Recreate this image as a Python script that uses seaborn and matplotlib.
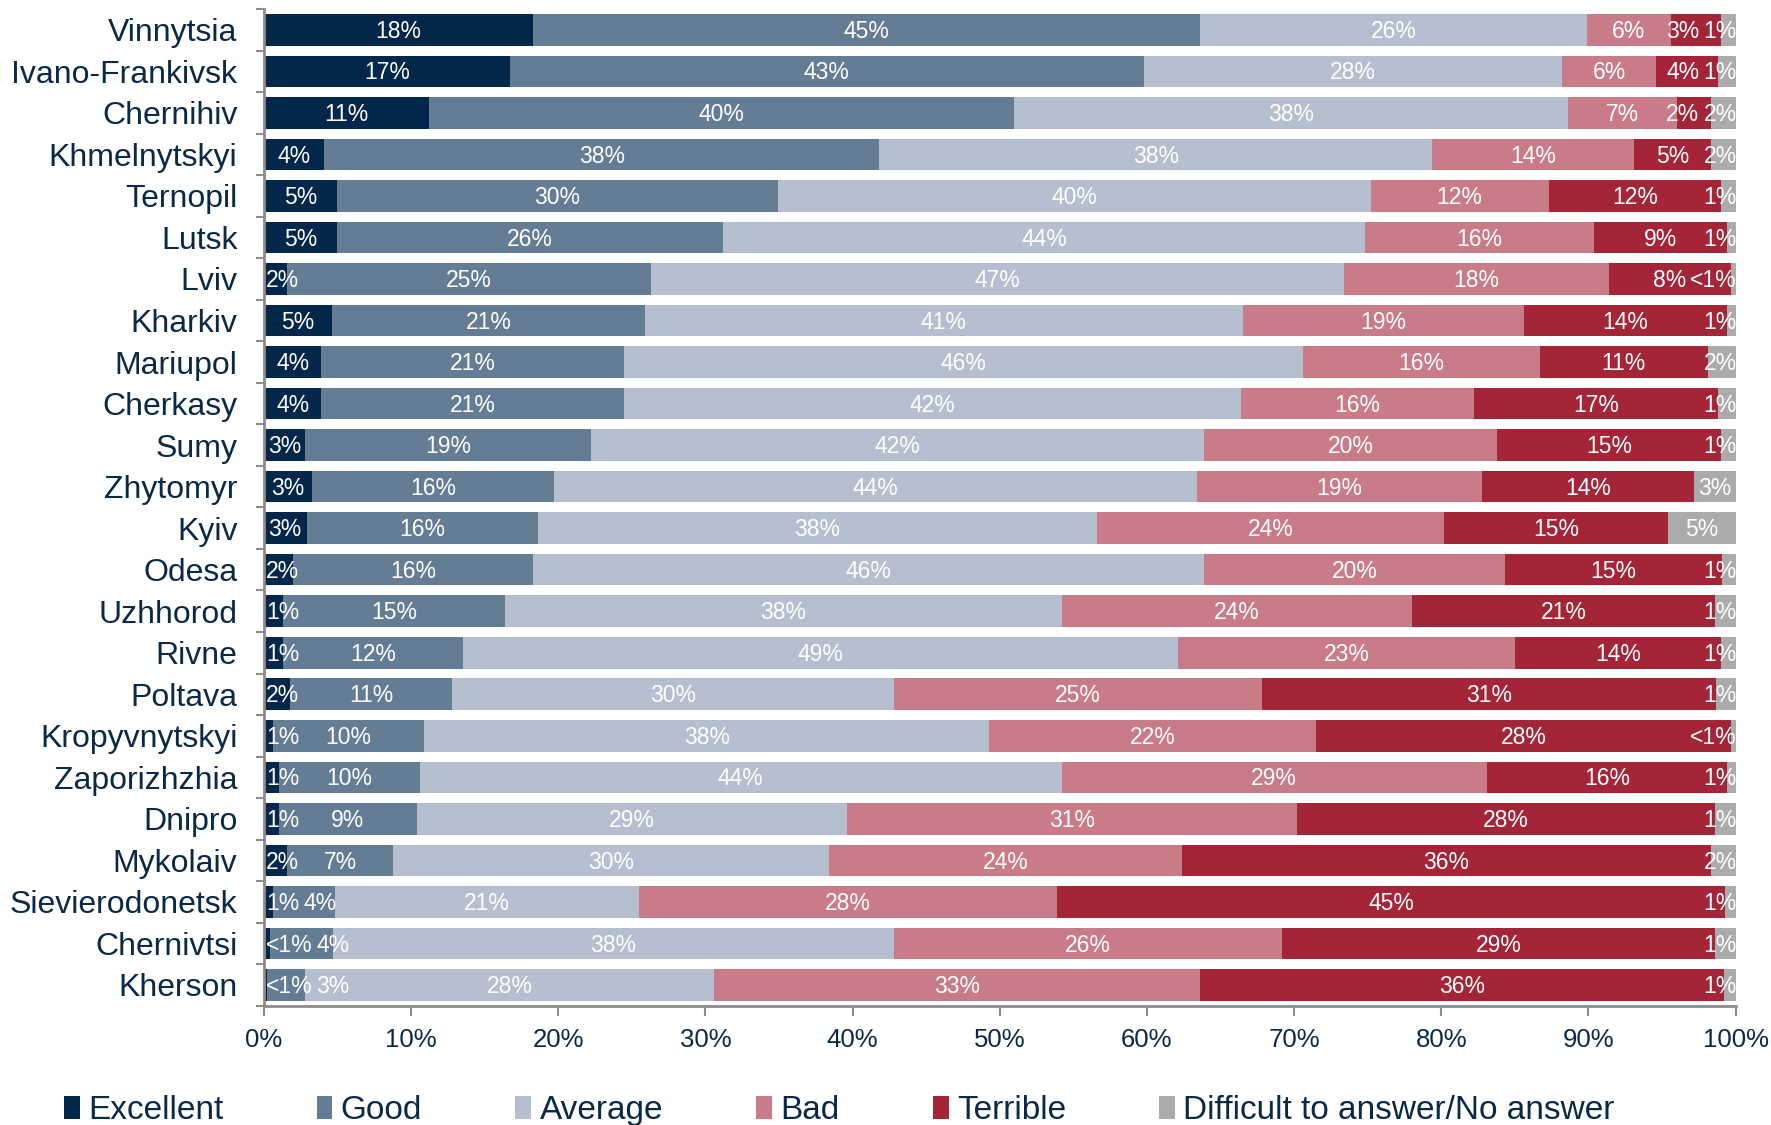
import numpy as np
import pandas as pd
import matplotlib
matplotlib.use("Agg")
import matplotlib.pyplot as plt
import matplotlib.ticker as mticker
from matplotlib.patches import Patch
import seaborn as sns

# ── Data (share of answers, %) ───────────────────────────
cities = ["Vinnytsia", "Ivano-Frankivsk", "Chernihiv", "Khmelnytskyi", "Ternopil",
          "Lutsk", "Lviv", "Kharkiv", "Mariupol", "Cherkasy", "Sumy", "Zhytomyr",
          "Kyiv", "Odesa", "Uzhhorod", "Rivne", "Poltava", "Kropyvnytskyi",
          "Zaporizhzhia", "Dnipro", "Mykolaiv", "Sievierodonetsk", "Chernivtsi", "Kherson"]

excellent = [18.3, 16.7, 11.2, 4.1, 5.0, 5.0, 1.6, 4.6, 3.9, 3.9, 2.8, 3.3,
             2.9, 2.0, 1.3, 1.3, 1.8, 0.6, 1.0, 1.0, 1.6, 0.6, 0.4, 0.2]
good      = [45.3, 43.1, 39.8, 37.7, 29.9, 26.2, 24.7, 21.3, 20.6, 20.6, 19.4, 16.4,
             15.7, 16.3, 15.1, 12.2, 11.0, 10.3, 9.6, 9.4, 7.2, 4.2, 4.3, 2.6]
average   = [26.3, 28.4, 37.6, 37.6, 40.3, 43.6, 47.1, 40.6, 46.1, 41.9, 41.7, 43.7,
             38.0, 45.6, 37.8, 48.6, 30.0, 38.4, 43.6, 29.2, 29.6, 20.7, 38.1, 27.8]
bad       = [5.7, 6.4, 7.4, 13.7, 12.1, 15.6, 18.0, 19.1, 16.1, 15.8, 19.9, 19.4,
             23.6, 20.4, 23.8, 22.9, 25.0, 22.2, 28.9, 30.6, 24.0, 28.4, 26.4, 33.0]
terrible  = [3.4, 4.2, 2.3, 5.2, 11.7, 9.0, 8.3, 13.8, 11.4, 16.6, 15.2, 14.4,
             15.2, 14.8, 20.6, 14.0, 30.9, 28.2, 16.3, 28.4, 35.9, 45.4, 29.4, 35.6]
difficult = [1.0, 1.2, 1.7, 1.7, 1.0, 0.6, 0.3, 0.6, 1.9, 1.2, 1.0, 2.8,
             4.6, 0.9, 1.4, 1.0, 1.3, 0.3, 0.6, 1.4, 1.7, 0.7, 1.4, 0.8]

series_names = ["Excellent", "Good", "Average", "Bad", "Terrible",
                "Difficult to answer/No answer"]

# ── Style ─────────────────────────────────────────────────
COLORS   = ["#03274A", "#657D94", "#B6BFD0", "#C97C88", "#A32537", "#ABABAB"]
TEXT_CLR = "#0A2947"
AXIS_CLR = "#8C8C8C"

sns.set_theme(style="white")
plt.rcParams["font.family"] = ["Liberation Sans", "DejaVu Sans"]

df = pd.DataFrame({"city": cities})
for name, vals in zip(series_names, [excellent, good, average, bad, terrible, difficult]):
    df[name] = vals
cum = df[series_names].cumsum(axis=1)

fig = plt.figure(figsize=(17.71, 11.25), dpi=100)
ax = fig.add_axes([0.149, 0.106, 0.831, 0.886])

# stacked bars: draw cumulative totals from the widest down
for k in range(len(series_names) - 1, -1, -1):
    sns.barplot(x=cum[series_names[k]], y=df["city"], color=COLORS[k],
                saturation=1, width=0.76, orient="h", errorbar=None,
                linewidth=0, ax=ax)

# data labels at the centre of each segment
rows = []
for i in range(len(df)):
    start = 0.0
    row = []
    for name in series_names:
        v = df.loc[i, name]
        lab = "<1%" if v < 0.5 else f"{v:.0f}%"
        t = ax.text(start + v / 2, i + 0.04, lab, ha="center", va="center",
                    color="white", fontsize=16.5)
        row.append(t)
        start += v
    rows.append(row)

ax.set_xlim(0, 100)
ax.set_ylim(len(cities) - 0.5, -0.5)
ax.xaxis.set_major_locator(mticker.MultipleLocator(10))
ax.xaxis.set_major_formatter(mticker.FuncFormatter(lambda x, _: f"{x:.0f}%"))
ax.set_xlabel("")
ax.set_ylabel("")

ax.set_yticks(np.arange(-0.5, len(cities), 1), minor=True)
ax.tick_params(axis="y", which="major", length=0, labelsize=23,
               labelcolor=TEXT_CLR, pad=19)
ax.tick_params(axis="y", which="minor", length=6, width=1.5, color=AXIS_CLR,
               direction="out", left=True)
ax.tick_params(axis="x", which="major", length=7, width=1.5, color=AXIS_CLR,
               direction="out", bottom=True, labelsize=18.5, labelcolor=TEXT_CLR, pad=9)

for side in ["top", "right"]:
    ax.spines[side].set_visible(False)
for side in ["left", "bottom"]:
    ax.spines[side].set_color(AXIS_CLR)
    ax.spines[side].set_linewidth(2)
ax.grid(False)

# nudge labels of thin segments so they stay inside the plot and don't collide
fig.canvas.draw()
renderer = fig.canvas.get_renderer()
axbb = ax.get_window_extent(renderer)
px2data = 100 / axbb.width
GAP = 4

for row in rows:
    boxes = []
    for t in row:
        bb = t.get_window_extent(renderer)
        boxes.append([bb.x0, bb.x1])
    # left to right
    lim = axbb.x0 + 2
    for b in boxes:
        if b[0] < lim:
            d = lim - b[0]
            b[0] += d
            b[1] += d
        lim = b[1] + GAP
    # right to left
    lim = axbb.x1 + 1
    for b in reversed(boxes):
        if b[1] > lim:
            d = b[1] - lim
            b[0] -= d
            b[1] -= d
        lim = b[0] - GAP
    for t, b in zip(row, boxes):
        x, y = t.get_position()
        bb = t.get_window_extent(renderer)
        t.set_position((x + (b[0] - bb.x0) * px2data, y))

handles = [Patch(facecolor=c, edgecolor="none", label=n) for c, n in zip(COLORS, series_names)]
fig.legend(handles=handles, loc="center", bbox_to_anchor=(0.474, 0.013), ncol=6,
           frameon=False, fontsize=24, handlelength=0.47, handleheight=0.7,
           handletextpad=0.25, columnspacing=2.8, labelcolor=TEXT_CLR)

fig.savefig("out.png", dpi=100)
plt.close()
